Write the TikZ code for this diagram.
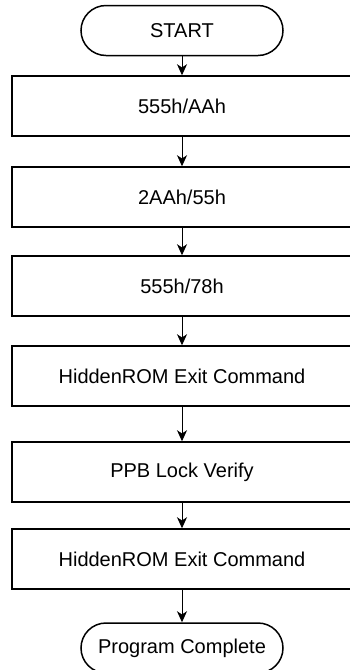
\documentclass[tikz,border=0pt]{standalone}
\usepackage{fontspec}
\setmainfont{Liberation Sans}
\usetikzlibrary{arrows.meta,positioning}

\begin{document}
\begin{tikzpicture}[node distance=15pt,>={Stealth[length=5.5pt,width=5pt,inset=1.6pt]},
  font=\fontsize{10pt}{12pt}\selectfont,
  stepbox/.style={draw, line width=1pt, minimum width=170pt, minimum height=30pt, inner sep=0pt},
  termbox/.style={draw, line width=0.75pt, rounded corners=12.5pt, minimum width=101pt, minimum height=25pt, inner sep=0pt},
  flow/.style={->, line width=0.5pt}]
  \useasboundingbox (0,0) rectangle (174.5pt,-335pt);

  % nodes
  \node[termbox] (start) at (91pt,-15.25pt) {START};
  \node[stepbox, below=9.5pt of start] (s1) {555h/AAh};
  \node[stepbox, below=14.5pt of s1] (s2) {2AAh/55h};
  \node[stepbox, below=13.5pt of s2] (s3) {555h/78h};
  \node[stepbox, below=14pt of s3] (s4) {HiddenROM Exit Command};
  \node[stepbox, below=17pt of s4] (s5) {PPB Lock Verify};
  \node[stepbox, below=12.5pt of s5] (s6) {HiddenROM Exit Command};
  \node[termbox, below=16pt of s6] (done) {Program Complete};

  % arrows
  \draw[flow] (start) -- (s1);
  \draw[flow] (s1) -- (s2);
  \draw[flow] (s2) -- (s3);
  \draw[flow] (s3) -- (s4);
  \draw[flow] (s4) -- (s5);
  \draw[flow] (s5) -- (s6);
  \draw[flow] (s6) -- (done);
\end{tikzpicture}
\end{document}
